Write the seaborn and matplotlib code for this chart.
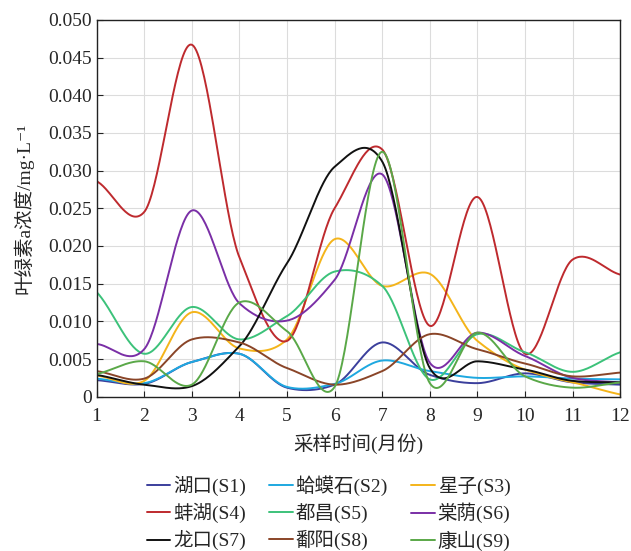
import seaborn as sns
import matplotlib.pyplot as plt
import pandas as pd
import numpy as np

# ----------------------------
# Monthly chlorophyll-a readings (mg/L)
# ----------------------------
months = [1, 2, 3, 4, 5, 6, 7, 8, 9, 10, 11, 12]

s1 = [0.0022, 0.0017, 0.0046, 0.0057, 0.0012, 0.0016, 0.0072, 0.0029, 0.0018, 0.0031, 0.0019, 0.0016]
s2 = [0.0024, 0.0018, 0.0046, 0.0057, 0.0013, 0.0017, 0.0048, 0.0034, 0.0025, 0.0027, 0.0024, 0.0023]
s3 = [0.0028, 0.0021, 0.0112, 0.0064, 0.0076, 0.0209, 0.0147, 0.0163, 0.0074, 0.0036, 0.0019, 0.0003]
s4 = [0.0286, 0.0245, 0.0467, 0.0185, 0.0074, 0.0250, 0.0328, 0.0094, 0.0265, 0.0057, 0.0182, 0.0162]
s5 = [0.0139, 0.0057, 0.0119, 0.0076, 0.0107, 0.0166, 0.0147, 0.0023, 0.0083, 0.0059, 0.0033, 0.0059]
s6 = [0.0070, 0.0063, 0.0247, 0.0124, 0.0101, 0.0155, 0.0295, 0.0045, 0.0085, 0.0054, 0.0025, 0.0019]
s7 = [0.0029, 0.0016, 0.0014, 0.0067, 0.0177, 0.0305, 0.0312, 0.0038, 0.0047, 0.0036, 0.0021, 0.0019]
s8 = [0.0034, 0.0024, 0.0076, 0.0072, 0.0038, 0.0016, 0.0034, 0.0083, 0.0063, 0.0044, 0.0027, 0.0032]
s9 = [0.0030, 0.0047, 0.0016, 0.0125, 0.0087, 0.0013, 0.0325, 0.0018, 0.0085, 0.0027, 0.0012, 0.0019]

sites = ["湖口(S1)", "蛤蟆石(S2)", "星子(S3)", "蚌湖(S4)", "都昌(S5)",
         "棠荫(S6)", "龙口(S7)", "鄱阳(S8)", "康山(S9)"]
series = [s1, s2, s3, s4, s5, s6, s7, s8, s9]
colors = ["#3b3f9c", "#1ea8e0", "#f4b41a", "#be2a2e", "#3cc27a",
          "#7a2fa6", "#111111", "#8a4528", "#5aa848"]


def cardinal_spline(x, y, xs, c=0.4):
    # Hermite curve with tangents c*(y[i+1]-y[i-1]), less overshoot than a natural spline
    x = np.asarray(x, float)
    y = np.asarray(y, float)
    n = len(x)
    m = np.zeros(n)
    m[1:-1] = c * (y[2:] - y[:-2])
    m[0] = 2 * c * (y[1] - y[0])
    m[-1] = 2 * c * (y[-1] - y[-2])
    idx = np.clip(np.searchsorted(x, xs) - 1, 0, n - 2)
    t = (xs - x[idx]) / (x[idx + 1] - x[idx])
    h00 = 2 * t**3 - 3 * t**2 + 1
    h10 = t**3 - 2 * t**2 + t
    h01 = -2 * t**3 + 3 * t**2
    h11 = t**3 - t**2
    return h00 * y[idx] + h10 * m[idx] + h01 * y[idx + 1] + h11 * m[idx + 1]


xs = np.linspace(1, 12, 400)
frames = []
for name, vals in zip(sites, series):
    frames.append(pd.DataFrame({"month": xs, "chl": cardinal_spline(months, vals, xs), "site": name}))
df = pd.concat(frames, ignore_index=True)

# ----------------------------
# Plot
# ----------------------------
sns.set_style("whitegrid", {"grid.color": "#dcdcdc", "axes.edgecolor": "#222222"})
plt.rcParams["font.family"] = ["Liberation Serif", "Noto Sans CJK SC", "DejaVu Sans"]

fig = plt.figure(figsize=(6.31, 5.51), dpi=100)
ax = fig.add_axes([0.153, 0.28, 0.830, 0.684])

sns.lineplot(data=df, x="month", y="chl", hue="site", hue_order=sites,
             palette=colors, linewidth=1.4, ax=ax)

ax.set_xlim(1, 12)
ax.set_ylim(0, 0.05)
ax.set_xticks(months)
ax.set_yticks(np.arange(0, 0.0501, 0.005))
ax.set_yticklabels(["0"] + [f"{v:.3f}" for v in np.arange(0.005, 0.0501, 0.005)])
ax.tick_params(axis="both", labelsize=14, direction="in", length=4, color="#222222",
               bottom=True, left=True)
ax.tick_params(axis="x", pad=8)
for sp in ax.spines.values():
    sp.set_linewidth(1.0)

ax.set_xlabel("采样时间(月份)", fontsize=14, labelpad=6)
ax.set_ylabel("叶绿素a浓度/mg·L⁻¹", fontsize=14, labelpad=10)

# legend: row-wise order in 3 columns
handles, labels = ax.get_legend_handles_labels()
order = [0, 3, 6, 1, 4, 7, 2, 5, 8]
ax.legend([handles[i] for i in order], [labels[i] for i in order],
          loc="upper left", bbox_to_anchor=(0.063, -0.162), ncol=3, frameon=False,
          fontsize=14, handlelength=1.2, columnspacing=1.2, labelspacing=0.36,
          handletextpad=0.15)

plt.savefig("out.png", dpi=100)
plt.close()
